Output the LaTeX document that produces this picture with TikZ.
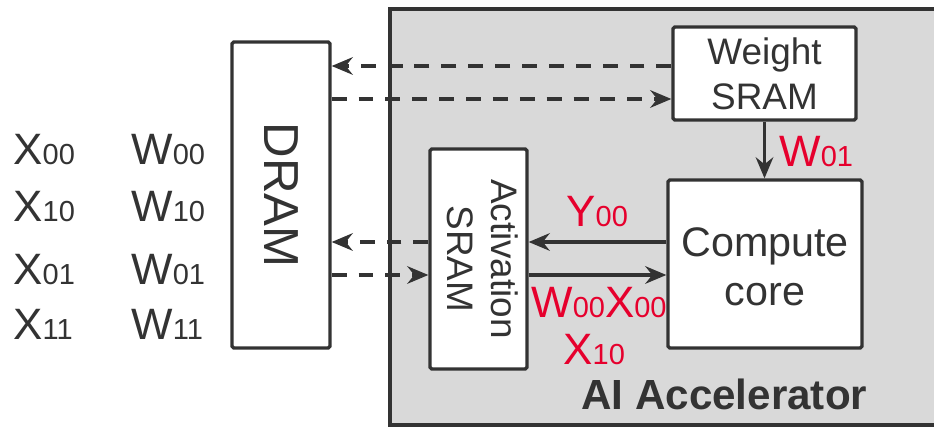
\documentclass[tikz,border=0pt]{standalone}
\usepackage{fontspec}
\setmainfont{Liberation Sans}
\usetikzlibrary{arrows.meta,positioning}

\definecolor{linegray}{RGB}{51,51,51}
\definecolor{accgray}{RGB}{217,217,217}
\definecolor{datared}{RGB}{230,0,45}
\newcommand{\elem}[2]{{\fontsize{25}{30}\selectfont #1}{\fontsize{16.5}{20}\selectfont #2}}

\begin{document}
\begin{tikzpicture}[
    x=0.02cm, y=-0.02cm,
    block/.style={draw=linegray, fill=white, line width=1.9pt, rounded corners=1pt, text=linegray, inner sep=0pt, align=center},
    link/.style={-{Stealth[length=12pt,width=10pt,inset=4pt]}, draw=linegray, line width=1.9pt},
    dashlink/.style={link, dash pattern=on 8.5pt off 6.8pt},
    tag/.style={inner sep=0pt, anchor=base west, text=datared},
    operand/.style={inner sep=0pt, anchor=base west, text=linegray}
]
\useasboundingbox (0,0) rectangle (934,428);

% Accelerator area
\fill[accgray] (390,9) rectangle (940,425);
\draw[linegray, line width=1.9pt] (940,9) -- (390,9) -- (390,425) -- (940,425);
\node[anchor=base west, inner sep=0pt, text=linegray, font=\bfseries\fontsize{24}{28}\selectfont] (acclabel) at (581,410) {AI Accelerator};

% Blocks
\node[block, minimum width=1.96cm, minimum height=6.12cm, font=\fontsize{28}{32}\selectfont] (dram) at (281,195) {\rotatebox{-90}{DRAM}};
\node[block, minimum width=3.66cm, minimum height=1.86cm, font=\fontsize{21}{25.5}\selectfont] (wsram) at (764.5,73.5) {Weight\\SRAM};
\node[block, minimum width=1.94cm, minimum height=4.4cm, font=\fontsize{21}{25.5}\selectfont] (asram) at (478.5,259) {\rotatebox{-90}{\begin{tabular}{@{}c@{}}Activation\\SRAM\end{tabular}}};
\node[block, minimum width=3.88cm, minimum height=3.36cm, font=\fontsize{23.5}{28.4}\selectfont] (core) at (765,264) {\raisebox{-0.14cm}[\height][\depth]{\begin{tabular}{@{}c@{}}Compute\\core\end{tabular}}};

% Operands in DRAM
\foreach \idx/\yy in {00/165, 10/222, 01/285, 11/340} {
    \node[operand] (x\idx) at (13,\yy) {\elem{X}{\idx}};
    \node[operand] (w\idx) at (131,\yy) {\elem{W}{\idx}};
}

% DRAM traffic
\draw[dashlink] ([yshift=0.15cm]wsram.west) -- ([yshift=0.15cm]wsram.west -| dram.east);
\draw[dashlink] ([yshift=-0.51cm]wsram.west -| dram.east) -- ([yshift=-0.51cm]wsram.west);
\draw[dashlink] ([yshift=0.34cm]asram.west) -- ([yshift=0.34cm]asram.west -| dram.east);
\draw[dashlink] ([yshift=-0.32cm]asram.west -| dram.east) -- ([yshift=-0.32cm]asram.west);

% On-chip traffic
\draw[link] (wsram.south) -- (wsram.south |- core.north);
\draw[link] ([yshift=0.34cm]asram.east -| core.west) -- ([yshift=0.34cm]asram.east);
\draw[link] ([yshift=-0.32cm]asram.east) -- ([yshift=-0.32cm]asram.east -| core.west);

\node[tag] (wtag) at (779,167) {\elem{W}{01}};
\node[tag] (ytag) at (566,227) {\elem{Y}{00}};
\node[tag] (wxtag) at (531,318) {\elem{W}{00}\elem{X}{00}};
\node[tag] (xtag) at (563,365) {\elem{X}{10}};

\end{tikzpicture}
\end{document}
